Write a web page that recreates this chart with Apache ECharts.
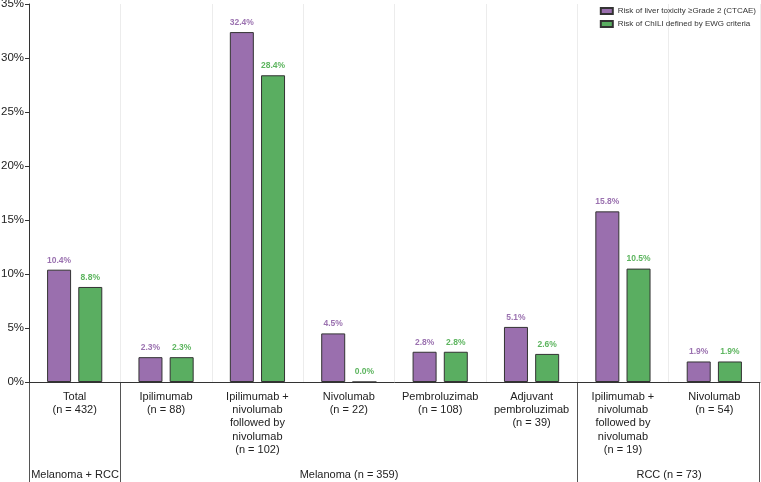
<!DOCTYPE html>
<html><head><meta charset="utf-8">
<script src="https://cdn.jsdelivr.net/npm/echarts@6/dist/echarts.min.js"></script>
<style>html,body{margin:0;padding:0;background:#fff}#c{width:761px;height:482px}</style>
</head><body><div id="c"></div>
<script>
var categories = ['Total\n(n = 432)','Ipilimumab\n(n = 88)','Ipilimumab +\nnivolumab\nfollowed by\nnivolumab\n(n = 102)','Nivolumab\n(n = 22)','Pembroluzimab\n(n = 108)','Adjuvant\npembroluzimab\n(n = 39)','Ipilimumab +\nnivolumab\nfollowed by\nnivolumab\n(n = 19)','Nivolumab\n(n = 54)'];
var liverTox = [10.4, 2.3, 32.4, 4.5, 2.8, 5.1, 15.8, 1.9];
var chili = [8.8, 2.3, 28.4, 0.0, 2.8, 2.6, 10.5, 1.9];
var seriesNames = ['Risk of liver toxicity \u2265Grade 2 (CTCAE)', 'Risk of ChILI defined by EWG criteria'];
var yTicks = [0, 5, 10, 15, 20, 25, 30, 35];
var groupNames = ['Melanoma + RCC', 'Melanoma (n = 359)', 'RCC (n = 73)'];
var groupSpans = [[0, 0], [1, 5], [6, 7]];

var FONT = 'Liberation Sans, Arial, sans-serif';
var chart = echarts.init(document.getElementById('c'));
var lbl = function(color){ return {show:true, position:'top', distance:5, fontSize:8.5, fontWeight:'bold', color:color, fontFamily:FONT, formatter:function(p){return p.value.toFixed(1)+'%';}}; };
chart.setOption({
  animation:false,
  textStyle:{fontFamily:FONT},
  grid:{left:29, right:1, top:4, bottom:100, containLabel:false, outerBoundsMode:'none'},
  legend:{orient:'vertical', right:0, top:2, itemWidth:12, itemHeight:6, itemGap:5, icon:'rect',
    textStyle:{fontSize:8, color:'#333', fontFamily:FONT}, data:seriesNames},
  xAxis:{type:'category', data:categories, boundaryGap:true,
    axisLine:{lineStyle:{color:'#333', width:1}}, axisTick:{show:false},
    axisLabel:{interval:0, fontSize:11, lineHeight:13.3, color:'#222', margin:8, fontFamily:FONT},
    splitLine:{show:true, lineStyle:{color:'#ececec', width:1}}},
  yAxis:{type:'value', min:yTicks[0], max:yTicks[yTicks.length-1], interval:5,
    axisLine:{show:true, lineStyle:{color:'#333'}}, axisTick:{show:true, length:4, lineStyle:{color:'#333'}},
    axisLabel:{fontSize:11.5, color:'#222', margin:5, formatter:'{value}%', fontFamily:FONT},
    splitLine:{show:false}},
  series:[
    {name:seriesNames[0], type:'bar', data:liverTox, barWidth:24, barGap:'30%',
      itemStyle:{color:'#9a6fae', borderColor:'#333', borderWidth:1}, label:lbl('#9b72b0')},
    {name:seriesNames[1], type:'bar', data:chili, barWidth:24,
      itemStyle:{color:'#5aae61', borderColor:'#333', borderWidth:1}, label:lbl('#5db55f')}
  ]
});
var c0 = chart.convertToPixel({xAxisIndex:0}, 0);
var c1 = chart.convertToPixel({xAxisIndex:0}, 1);
var band = c1 - c0;
var y0 = chart.convertToPixel({yAxisIndex:0}, 0);
var H = chart.getHeight();
function edge(i){ return Math.round(c0 - band/2 + band*i) + 0.5; }
var g = [];
[0, 1, 6, 8].forEach(function(i){
  var x = edge(i); if (i === 8) x = Math.min(x, chart.getWidth()-1.5);
  g.push({type:'line', shape:{x1:x, y1:y0, x2:x, y2:H}, style:{stroke:'#555', lineWidth:1}});
});
groupSpans.forEach(function(s, k){
  var x1 = edge(s[0]), x2 = edge(s[1]+1);
  g.push({type:'text', x:(x1+x2)/2, y:475, style:{text:groupNames[k], align:'center', verticalAlign:'middle', fontSize:11, fill:'#222', fontFamily:FONT}});
});
chart.setOption({graphic:g});
</script></body></html>
